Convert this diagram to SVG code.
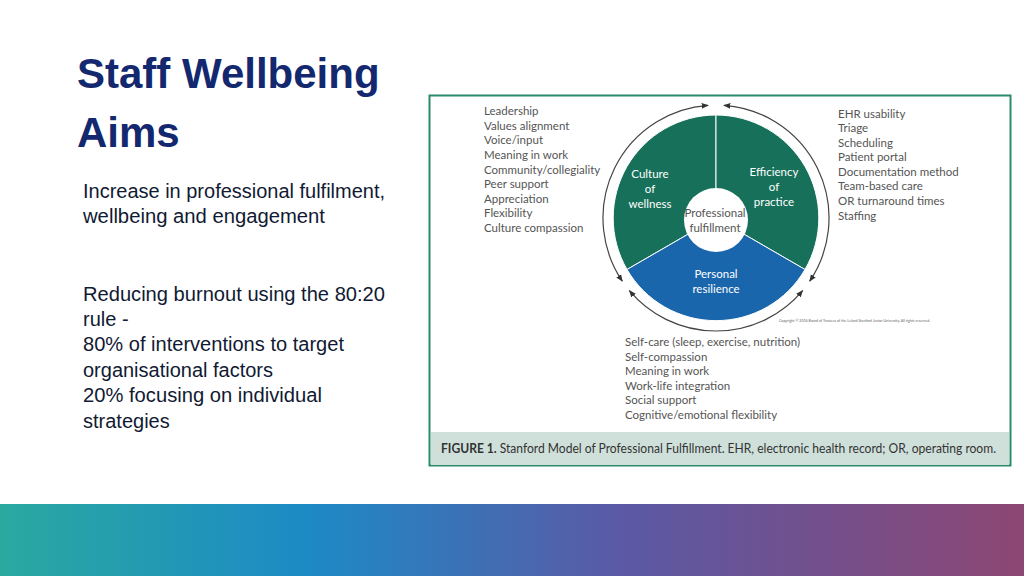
<svg xmlns="http://www.w3.org/2000/svg" width="1024" height="576" viewBox="0 0 1024 576">
<style>
.t{font-family:"Liberation Sans",Arial,sans-serif;fill:#111a33;font-size:20px}
.h{font-family:"Liberation Sans",Arial,sans-serif;font-weight:bold;fill:#13286e;font-size:42px}
.f{font-family:Lato,"Open Sans",sans-serif;fill:#555;font-size:11.5px}
.w{font-family:Lato,"Open Sans",sans-serif;fill:#fff;font-size:11.5px;text-anchor:middle}
.arc{fill:none;stroke:#444;stroke-width:1.2;marker-start:url(#ah);marker-end:url(#ah)}
</style>
<defs>
<linearGradient id="g" x1="0" x2="1"><stop offset="0" stop-color="#2aa9a0"/><stop offset="0.3" stop-color="#1c8ac6"/><stop offset="0.6" stop-color="#5a5aa6"/><stop offset="1" stop-color="#8c4673"/></linearGradient>
<marker id="ah" viewBox="0 0 10 10" refX="9" refY="5" markerWidth="6" markerHeight="6" orient="auto-start-reverse"><path d="M0,1 L10,5 L0,9 Z" fill="#333"/></marker>
</defs>
<rect width="1024" height="576" fill="#fff"/>
<text class="h" x="77" y="88">Staff Wellbeing</text>
<text class="h" x="77" y="147">Aims</text>
<text class="t" x="83" y="198" textLength="302" lengthAdjust="spacingAndGlyphs">Increase in professional fulfilment,</text>
<text class="t" x="83" y="223" textLength="242" lengthAdjust="spacingAndGlyphs">wellbeing and engagement</text>
<text class="t" x="83" y="301" textLength="302" lengthAdjust="spacingAndGlyphs">Reducing burnout using the 80:20</text>
<text class="t" x="83" y="326">rule -</text>
<text class="t" x="83" y="351" textLength="261" lengthAdjust="spacingAndGlyphs">80% of interventions to target</text>
<text class="t" x="83" y="377" textLength="190" lengthAdjust="spacingAndGlyphs">organisational factors</text>
<text class="t" x="83" y="402" textLength="239" lengthAdjust="spacingAndGlyphs">20% focusing on individual</text>
<text class="t" x="83" y="428">strategies</text>
<g id="figure">
<rect x="429.5" y="95.5" width="581" height="370" fill="#fff" stroke="#2a8a6e" stroke-width="2"/>
<rect x="431" y="432" width="578" height="33" fill="#cfe0da"/>
</g>
<g id="wheel">
<path d="M716,218 L627,269.5 A103,103 0 0 1 716,115 Z" fill="#17705a" stroke="#fff" stroke-width="1"/>
<path d="M716,218 L716,115 A103,103 0 0 1 805,269.5 Z" fill="#17705a" stroke="#fff" stroke-width="1"/>
<path d="M716,218 L805,269.5 A103,103 0 0 1 627,269.5 Z" fill="#1a66ad" stroke="#fff" stroke-width="1"/>
<circle cx="716" cy="220" r="32" fill="#fff"/>
</g>
<g id="connectors">
<path class="arc" d="M622.3,281.2 A113,113 0 0 1 708.1,105.3"/>
<path class="arc" d="M723.9,105.3 A113,113 0 0 1 809.7,281.2"/>
<path class="arc" d="M802.6,290.6 A113,113 0 0 1 629.4,290.6"/>
</g>
<g id="labels">
<text class="w" x="650" y="178">Culture</text><text class="w" x="650" y="193">of</text><text class="w" x="650" y="208">wellness</text>
<text class="w" x="774" y="176">Efficiency</text><text class="w" x="774" y="191">of</text><text class="w" x="774" y="206">practice</text>
<text class="f" x="715" y="217" text-anchor="middle">Professional</text><text class="f" x="715" y="232" text-anchor="middle">fulfillment</text>
<text class="w" x="716" y="278">Personal</text><text class="w" x="716" y="293">resilience</text>
</g>
<g id="lists" class="f">
<text class="f" x="484" y="115">Leadership</text>
<text class="f" x="484" y="130">Values alignment</text>
<text class="f" x="484" y="144">Voice/input</text>
<text class="f" x="484" y="159">Meaning in work</text>
<text class="f" x="484" y="174">Community/collegiality</text>
<text class="f" x="484" y="188">Peer support</text>
<text class="f" x="484" y="203">Appreciation</text>
<text class="f" x="484" y="217">Flexibility</text>
<text class="f" x="484" y="232">Culture compassion</text>
<text class="f" x="838" y="118">EHR usability</text>
<text class="f" x="838" y="132">Triage</text>
<text class="f" x="838" y="147">Scheduling</text>
<text class="f" x="838" y="161">Patient portal</text>
<text class="f" x="838" y="176">Documentation method</text>
<text class="f" x="838" y="190">Team-based care</text>
<text class="f" x="838" y="205">OR turnaround times</text>
<text class="f" x="838" y="220">Staffing</text>
<text class="f" x="625" y="346">Self-care (sleep, exercise, nutrition)</text>
<text class="f" x="625" y="361">Self-compassion</text>
<text class="f" x="625" y="375">Meaning in work</text>
<text class="f" x="625" y="390">Work-life integration</text>
<text class="f" x="625" y="404">Social support</text>
<text class="f" x="625" y="419">Cognitive/emotional flexibility</text>
<text x="779" y="322" font-family="Lato,sans-serif" font-size="3.6" fill="#666">Copyright © 2016 Board of Trustees of the Leland Stanford Junior University. All rights reserved.</text>
<text x="441" y="453" font-family="Lato,'Open Sans',sans-serif" font-size="12.5" fill="#333" textLength="555" lengthAdjust="spacingAndGlyphs"><tspan font-weight="bold">FIGURE 1.</tspan> Stanford Model of Professional Fulfillment. EHR, electronic health record; OR, operating room.</text>
</g>
<rect x="0" y="504" width="1024" height="72" fill="url(#g)"/>
</svg>
